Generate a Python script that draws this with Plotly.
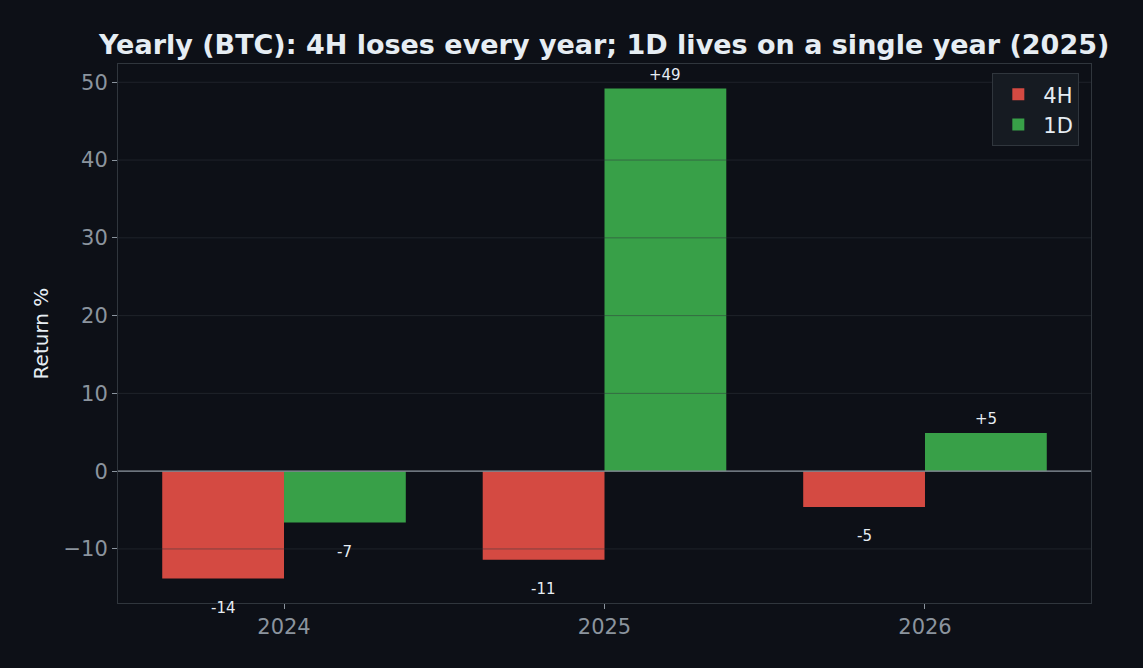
import plotly.graph_objects as go

# --- data ---
years = ["2024", "2025", "2026"]
ret_4h = [-13.8, -11.4, -4.6]
ret_1d = [-6.6, 49.2, 4.9]
y_ticks = [-10, 0, 10, 20, 30, 40, 50]

BG = "#0d1017"
RED = "#d44a42"
GREEN = "#38a048"
SPINE = "#30363d"
MUTED = "#8b949e"
TEXT = "#e6edf3"
BAR_W = 0.38

fig = go.Figure()
fig.add_trace(go.Bar(x=years, y=ret_4h, name="4H", marker=dict(color=RED, line=dict(width=0))))
fig.add_trace(go.Bar(x=years, y=ret_1d, name="1D", marker=dict(color=GREEN, line=dict(width=0))))

# value labels above/below each bar
for offset, series in [(-BAR_W / 2, ret_4h), (BAR_W / 2, ret_1d)]:
    for i, v in enumerate(series):
        fig.add_annotation(
            x=i + offset, y=v, xref="x", yref="y",
            text=f"{v:+.0f}", showarrow=False,
            yshift=14 if v >= 0 else -29,
            font=dict(size=15, color=TEXT),
        )

# grid drawn on top of bars (like the original)
for t in y_ticks:
    fig.add_shape(type="line", xref="paper", yref="y", x0=0, x1=1, y0=t, y1=t,
                  line=dict(color="rgba(48,54,61,0.5)", width=1), layer="above")
fig.add_shape(type="line", xref="paper", yref="y", x0=0, x1=1, y0=0, y1=0,
              line=dict(color=MUTED, width=1.2), layer="above")

fig.update_layout(
    title=dict(text="<b>Yearly (BTC): 4H loses every year; 1D lives on a single year (2025)</b>",
               x=0.5286, xanchor="center", y=0.934, yanchor="middle",
               font=dict(size=27, color=TEXT)),
    barmode="group", bargap=0.24, bargroupgap=0,
    paper_bgcolor=BG, plot_bgcolor=BG,
    font=dict(family="DejaVu Sans", color=TEXT),
    width=1143, height=668,
    margin=dict(l=118, r=52, t=64, b=65),
    legend=dict(x=0.988, y=0.983, xanchor="right", yanchor="top",
                bgcolor="#161b22", bordercolor=SPINE, borderwidth=1,
                font=dict(size=21, color=TEXT), itemwidth=40),
    showlegend=True,
)
fig.update_xaxes(range=[-0.518, 2.518], showgrid=False, showline=True, mirror=True,
                 linecolor=SPINE, linewidth=1, ticks="outside", ticklen=5, tickcolor=MUTED,
                 tickfont=dict(size=21, color=MUTED))
fig.update_yaxes(range=[-16.95, 52.35], tickvals=y_ticks, showgrid=False, zeroline=False,
                 showline=True, mirror=True, linecolor=SPINE, linewidth=1,
                 ticks="outside", ticklen=5, tickcolor=MUTED,
                 tickfont=dict(size=21, color=MUTED),
                 title=dict(text="Return %", font=dict(size=20, color=TEXT), standoff=9))

fig.write_html("out.html", config={"displayModeBar": False},
               post_script="document.body.style.margin='0';document.body.style.background='#0d1017';")
